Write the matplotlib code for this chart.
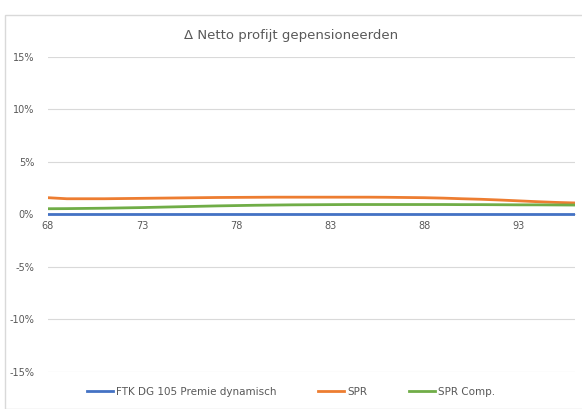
import matplotlib.pyplot as plt
from matplotlib.patches import Rectangle

ages = list(range(68, 97))
ftk = [0.0] * 29
spr = [1.6, 1.5, 1.5, 1.5, 1.52, 1.54, 1.56, 1.58, 1.6, 1.62, 1.63, 1.64, 1.65, 1.65, 1.65,
       1.65, 1.65, 1.65, 1.64, 1.62, 1.6, 1.56, 1.5, 1.45, 1.38, 1.3, 1.22, 1.15, 1.1]
spr_comp = [0.55, 0.56, 0.58, 0.6, 0.63, 0.66, 0.7, 0.74, 0.78, 0.82, 0.85, 0.88, 0.9, 0.92, 0.93,
            0.94, 0.95, 0.95, 0.95, 0.95, 0.95, 0.95, 0.94, 0.94, 0.93, 0.92, 0.92, 0.91, 0.9]
xticks = [68, 73, 78, 83, 88, 93]
yticks = [-15, -10, -5, 0, 5, 10, 15]

grey = '#595959'
fig = plt.figure(figsize=(5.82, 4.09), dpi=100)
fig.patches.append(Rectangle((5 / 582, 0), 1, 1 - 15 / 409, transform=fig.transFigure,
                             fill=False, edgecolor='#d9d9d9', linewidth=1))
ax = fig.add_axes([48 / 582, 1 - 372 / 409, 527 / 582, 315 / 409])

ax.plot(ages, ftk, color='#4472C4', linewidth=2, zorder=3, label='FTK DG 105 Premie dynamisch')
ax.plot(ages, spr, color='#ED7D31', linewidth=2, zorder=3, label='SPR')
ax.plot(ages, spr_comp, color='#70AD47', linewidth=2, zorder=3, label='SPR Comp.')

ax.set_xlim(68, 96)
ax.set_ylim(-15, 15)
ax.set_yticks(yticks)
ax.set_yticklabels([f'{v}%' for v in yticks])
ax.set_xticks(xticks)
ax.grid(axis='y', color='#d9d9d9', linewidth=0.8)
ax.set_axisbelow(True)
for s in ['top', 'right', 'left']:
    ax.spines[s].set_visible(False)
ax.spines['bottom'].set_position(('data', 0))
ax.spines['bottom'].set_color('#d9d9d9')
ax.spines['bottom'].set_zorder(1)
ax.tick_params(axis='both', length=0, labelsize=7, labelcolor=grey, pad=5)
ax.tick_params(axis='y', pad=10)

fig.text(0.5, 1 - 35 / 409, 'Δ Netto profijt gepensioneerden', ha='center', va='center',
         fontsize=9.5, color=grey)
fig.legend(loc='center', bbox_to_anchor=(0.5, 1 - 392 / 409), ncol=3, frameon=False,
           fontsize=7.5, labelcolor=grey, handlelength=2.5, handletextpad=0.3, columnspacing=4)

fig.savefig('out.png', dpi=100)
